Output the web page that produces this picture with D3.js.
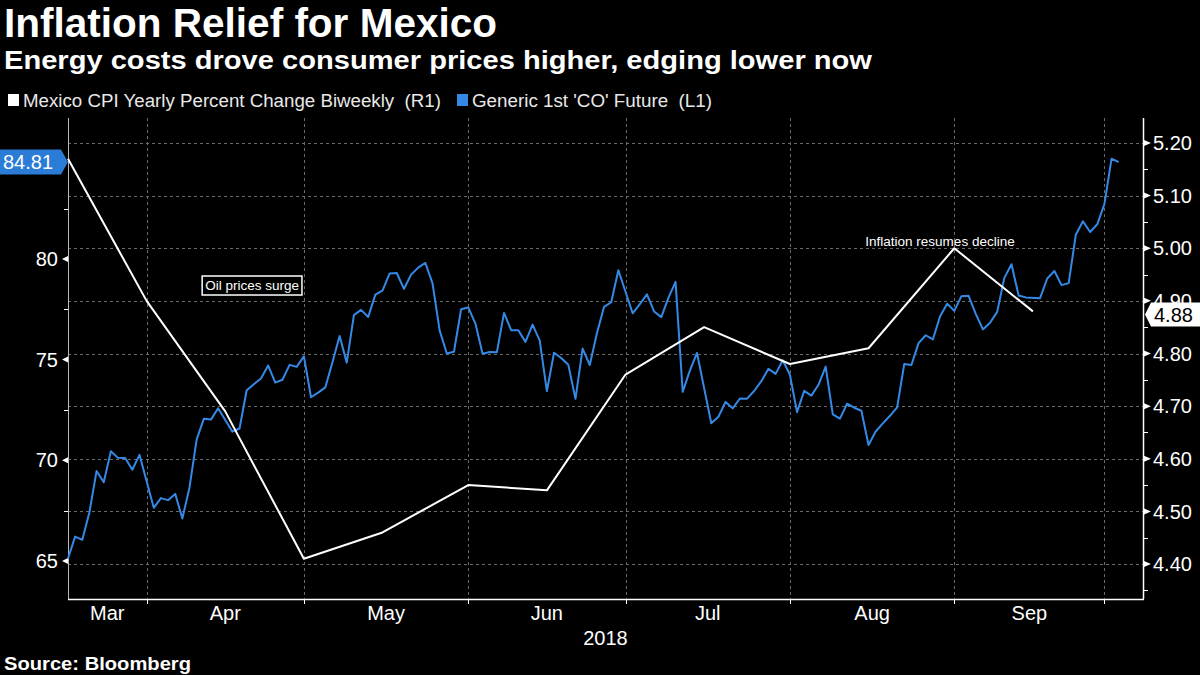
<!DOCTYPE html>
<html><head><meta charset="utf-8">
<script src="https://cdn.jsdelivr.net/npm/d3@7"></script>
<style>
html,body{margin:0;padding:0;background:#000;}
svg{display:block;}
text{font-family:"Liberation Sans",Arial,"DejaVu Sans",sans-serif;}
</style></head><body>
<svg id="chart" width="1200" height="675"></svg>
<script>
// ---------- DATA ----------
const titleText = "Inflation Relief for Mexico";
const subtitleText = "Energy costs drove consumer prices higher, edging lower now";
const sourceText = "Source: Bloomberg";
const cpiName = "Mexico CPI Yearly Percent Change Biweekly  (R1)";
const brentName = "Generic 1st 'CO' Future  (L1)";

// Brent front-month (CO1) daily closes, trading days 2018-03-15 .. 2018-10-02
const brentStart = "2018-03-15";
const brentEnd = "2018-10-02";
const brentHolidays = ["2018-03-30"];
const brentMar = [65.12, 66.21, 66.05, 67.42, 69.47, 68.91, 70.45, 70.12, 70.11, 69.53, 70.27];
const brentApr = [67.64, 68.12, 68.02, 68.33, 67.11, 68.65, 71.04, 72.06, 72.02, 72.58, 71.42, 71.58, 73.48, 73.78, 74.06, 74.71, 73.86, 74.00, 74.74, 74.64, 75.17];
const brentMay = [73.13, 73.36, 73.62, 74.87, 76.17, 74.85, 77.21, 77.47, 77.12, 78.23, 78.43, 79.28, 79.30, 78.51, 79.22, 79.57, 79.80, 78.79, 76.44, 75.30, 75.39, 77.50, 77.59];
const brentJun = [76.79, 75.29, 75.38, 75.36, 77.32, 76.46, 76.46, 75.88, 76.74, 75.94, 73.44, 75.34, 75.08, 74.74, 73.05, 75.55, 74.73, 76.31, 77.62, 77.85, 79.44];
const brentJul = [77.30, 77.76, 78.24, 77.39, 77.11, 78.07, 78.86, 73.40, 74.45, 75.33, 71.84, 72.16, 72.90, 72.58, 73.07, 73.06, 73.44, 73.93, 74.54, 74.29, 74.97, 74.25];
const brentAug = [72.39, 73.45, 73.21, 73.75, 74.65, 72.28, 72.07, 72.81, 72.61, 72.46, 70.76, 71.43, 71.83, 72.21, 72.63, 74.78, 74.73, 75.82, 76.21, 76.00, 77.14, 77.77, 77.42];
const brentSep = [78.15, 78.17, 77.27, 76.50, 76.83, 77.37, 79.06, 79.74, 78.18, 78.09, 78.05, 79.03, 79.40, 78.70, 78.80, 81.20, 81.87, 81.34, 81.72, 82.72];
const brentOct = [84.98, 84.81];

// Mexico CPI YoY %, biweekly (period end dates)
const cpiDates = ["2018-03-15","2018-03-31","2018-04-15","2018-04-30","2018-05-15","2018-05-31","2018-06-15","2018-06-30","2018-07-15","2018-07-31","2018-08-15","2018-08-31","2018-09-15"];
const cpiValues = [5.17, 4.90, 4.69, 4.41, 4.46, 4.55, 4.54, 4.76, 4.85, 4.78, 4.81, 5.00, 4.88];

const leftTicks = [65, 70, 75, 80];
const leftMinorTicks = [67.5, 72.5, 77.5, 82.5];
const rightTicks = [4.40, 4.50, 4.60, 4.70, 4.80, 4.90, 5.00, 5.10, 5.20];
const rightMinorTicks = [4.35, 4.45, 4.55, 4.65, 4.75, 4.85, 4.95, 5.05, 5.15];
const monthLabels = ["Mar", "Apr", "May", "Jun", "Jul", "Aug", "Sep"];
const yearLabel = "2018";

const annotations = [
  {text: "Oil prices surge", date: "2018-04-18", value: 78.68, axis: "left", boxed: true, shift: 0.75},
  {text: "Inflation resumes decline", date: "2018-08-29", value: 5.013, axis: "right", boxed: false, shift: 0}
];

// ---------- BUILD ----------
const parse = d3.utcParse("%Y-%m-%d"), fmt = d3.utcFormat("%Y-%m-%d");
const brentValues = [].concat(brentMar, brentApr, brentMay, brentJun, brentJul, brentAug, brentSep, brentOct);
const brentDates = d3.utcDay.range(parse(brentStart), d3.utcDay.offset(parse(brentEnd), 1))
  .filter(d => d.getUTCDay() !== 0 && d.getUTCDay() !== 6 && !brentHolidays.includes(fmt(d)))
  .map(fmt);
const brent = brentDates.map((d, i) => ({date: d, v: brentValues[i]})).filter(d => d.v != null);
const cpi = cpiDates.map((d, i) => ({date: d, v: cpiValues[i]}));

const slots = Array.from(new Set([...brentDates, ...cpiDates])).sort();
const slotIndex = new Map(slots.map((d, i) => [d, i]));

const L = 68, R = 1143, T = 118, B = 599;
const x = d3.scaleLinear().domain([0, slots.length - 1 + 3.4]).range([L, R]);
const yL = d3.scaleLinear().domain([63.11, 87.0]).range([B, T]);
const yR = d3.scaleLinear().domain([4.3335, 5.2475]).range([B, T]);

const svg = d3.select("#chart");
svg.append("rect").attr("width", 1200).attr("height", 675).attr("fill", "#000");

// month ticks: last slot of each complete month
const monthLast = d3.rollups(slots, v => d3.max(v, d => slotIndex.get(d)), d => d.slice(0, 7))
  .sort((a, b) => d3.ascending(a[0], b[0]))
  .filter(m => m[1] < slots.length - 1);
const tickX = monthLast.map(m => x(m[1]));

// grid
const grid = svg.append("g").attr("stroke", "#6a6a6a").attr("stroke-width", 1).attr("stroke-dasharray", "3,3");
grid.selectAll("line.h").data(rightTicks).join("line")
  .attr("x1", L).attr("x2", R).attr("y1", d => Math.round(yR(d)) + 0.5).attr("y2", d => Math.round(yR(d)) + 0.5);
grid.selectAll("line.v").data(tickX).join("line")
  .attr("y1", T).attr("y2", B).attr("x1", d => Math.round(d) + 0.5).attr("x2", d => Math.round(d) + 0.5);

// axes lines
svg.append("line").attr("x1", L + 0.5).attr("x2", L + 0.5).attr("y1", T).attr("y2", B).attr("stroke", "#b8b8b8").attr("stroke-width", 1);
svg.append("line").attr("x1", R + 0.5).attr("x2", R + 0.5).attr("y1", T).attr("y2", B).attr("stroke", "#fff").attr("stroke-width", 1.5);
svg.append("line").attr("x1", L).attr("x2", R + 1).attr("y1", B + 0.5).attr("y2", B + 0.5).attr("stroke", "#fff").attr("stroke-width", 1.5);

// bottom ticks
svg.selectAll("line.bt").data(tickX).join("line")
  .attr("x1", d => Math.round(d) + 0.5).attr("x2", d => Math.round(d) + 0.5)
  .attr("y1", B).attr("y2", B + 5).attr("stroke", "#fff").attr("stroke-width", 1);

// month labels
const bounds = [L].concat(tickX);
svg.selectAll("text.month").data(monthLabels).join("text")
  .attr("x", (d, i) => (bounds[i] + bounds[i + 1]) / 2)
  .attr("y", 620).attr("text-anchor", "middle").attr("fill", "#fff").attr("font-size", 20)
  .text(d => d);
svg.append("text").attr("x", (L + R) / 2).attr("y", 645).attr("text-anchor", "middle")
  .attr("fill", "#fff").attr("font-size", 20).text(yearLabel);

// left axis ticks
svg.selectAll("path.lt").data(leftTicks).join("path")
  .attr("d", d => `M${L},${yL(d) - 3}L${L - 6},${yL(d)}L${L},${yL(d) + 3}Z`).attr("fill", "#fff");
svg.selectAll("line.lm").data(leftMinorTicks).join("line")
  .attr("x1", L - 4).attr("x2", L).attr("y1", d => Math.round(yL(d)) + 0.5).attr("y2", d => Math.round(yL(d)) + 0.5)
  .attr("stroke", "#fff").attr("stroke-width", 1);
svg.selectAll("text.ll").data(leftTicks).join("text")
  .attr("x", L - 10).attr("y", d => yL(d)).attr("dy", "0.36em").attr("text-anchor", "end")
  .attr("fill", "#fff").attr("font-size", 20).text(d => d);

// right axis ticks
svg.selectAll("path.rt").data(rightTicks).join("path")
  .attr("d", d => `M${R + 1},${yR(d) - 3}L${R + 8},${yR(d)}L${R + 1},${yR(d) + 3}Z`).attr("fill", "#fff");
svg.selectAll("line.rm").data(rightMinorTicks).join("line")
  .attr("x1", R).attr("x2", R + 5).attr("y1", d => Math.round(yR(d)) + 0.5).attr("y2", d => Math.round(yR(d)) + 0.5)
  .attr("stroke", "#fff").attr("stroke-width", 1);
svg.selectAll("text.rl").data(rightTicks).join("text")
  .attr("x", R + 10).attr("y", d => yR(d)).attr("dy", "0.36em")
  .attr("fill", "#fff").attr("font-size", 20).text(d => d.toFixed(2));

// lines
const blue = "#3589e6";
svg.append("path").datum(brent)
  .attr("d", d3.line().x(d => x(slotIndex.get(d.date))).y(d => yL(d.v)))
  .attr("fill", "none").attr("stroke", blue).attr("stroke-width", 2).attr("stroke-linejoin", "round");
svg.append("path").datum(cpi)
  .attr("d", d3.line().x(d => x(slotIndex.get(d.date))).y(d => yR(d.v)))
  .attr("fill", "none").attr("stroke", "#fff").attr("stroke-width", 2).attr("stroke-linejoin", "round");

// annotations
annotations.forEach(a => {
  const ax = x(slotIndex.get(a.date) + a.shift);
  const ay = a.axis === "left" ? yL(a.value) : yR(a.value);
  const g = svg.append("g");
  const t = g.append("text").attr("x", ax).attr("y", ay).attr("dy", "0.36em").attr("text-anchor", "middle")
    .attr("fill", "#fff").attr("font-size", 13.5).text(a.text);
  if (a.boxed) {
    const bb = t.node().getBBox();
    g.insert("rect", "text").attr("x", bb.x - 3).attr("y", ay - 9.5).attr("width", bb.width + 6).attr("height", 19)
      .attr("fill", "#000").attr("stroke", "#fff").attr("stroke-width", 1.5);
  }
});

// last value labels
const lastB = brent[brent.length - 1].v;
const lyB = yL(lastB);
svg.append("path").attr("d", `M0,${lyB - 12.5}H${L - 7}L${L},${lyB}L${L - 7},${lyB + 12.5}H0Z`).attr("fill", "#2b7cd6");
svg.append("text").attr("x", 3).attr("y", lyB).attr("dy", "0.36em").attr("fill", "#fff").attr("font-size", 20).text(lastB.toFixed(2));

const lastC = cpi[cpi.length - 1].v;
const lyC = yR(lastC) + 3;
svg.append("path").attr("d", `M${R + 2},${lyC}L${R + 8},${lyC - 12}H1200V${lyC + 12}H${R + 8}Z`).attr("fill", "#fff");
svg.append("text").attr("x", R + 11).attr("y", lyC).attr("dy", "0.36em").attr("fill", "#000").attr("font-size", 20).text(lastC.toFixed(2));

// titles
function fit(sel, w) { return sel.attr("textLength", w).attr("lengthAdjust", "spacingAndGlyphs"); }
fit(svg.append("text").attr("x", 4).attr("y", 37).attr("fill", "#fff").attr("font-size", 40).attr("font-weight", "bold").text(titleText), 493);
fit(svg.append("text").attr("x", 4).attr("y", 69).attr("fill", "#fff").attr("font-size", 25).attr("font-weight", "bold").text(subtitleText), 868);

// legend
svg.append("rect").attr("x", 8).attr("y", 94).attr("width", 11).attr("height", 12).attr("fill", "#fff");
fit(svg.append("text").attr("x", 23).attr("y", 107).attr("fill", "#e8e8e8").attr("font-size", 18).style("white-space", "pre").text(cpiName), 418);
svg.append("rect").attr("x", 457).attr("y", 94).attr("width", 11).attr("height", 12).attr("fill", blue);
fit(svg.append("text").attr("x", 472).attr("y", 107).attr("fill", "#e8e8e8").attr("font-size", 18).style("white-space", "pre").text(brentName), 240);

// source
fit(svg.append("text").attr("x", 4).attr("y", 670).attr("fill", "#fff").attr("font-size", 18).attr("font-weight", "bold").text(sourceText), 187);
</script>
</body></html>
